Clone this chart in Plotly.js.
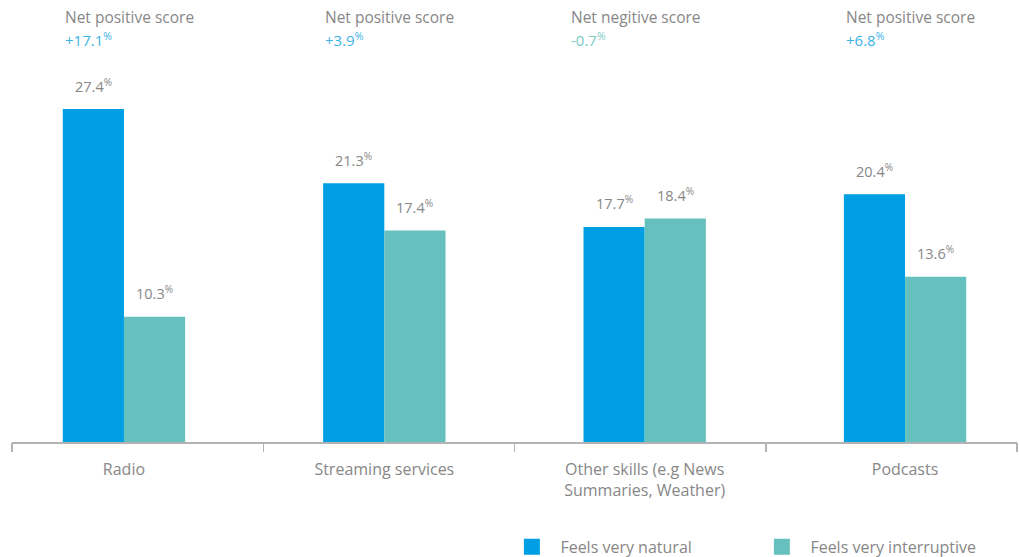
<!DOCTYPE html>
<html>
<head>
<meta charset="utf-8">
<script src="https://cdn.plot.ly/plotly-3.0.1.min.js"></script>
<style>
  html, body { margin: 0; padding: 0; background: #fff; }
  #chart { width: 1019px; height: 557px; }
</style>
</head>
<body>
<div id="chart"></div>
<script>
/* ---- Data ---- */
const CATEGORIES = ['Radio', 'Streaming services', 'Other skills (e.g News<br>Summaries, Weather)', 'Podcasts'];
const NATURAL = [27.4, 21.3, 17.7, 20.4];
const INTERRUPTIVE = [10.3, 17.4, 18.4, 13.6];
const SCORE_LABELS = ['Net positive score', 'Net positive score', 'Net negitive score', 'Net positive score'];
const SCORE_VALUES = ['+17.1', '+3.9', '-0.7', '+6.8'];
const SERIES_NAMES = ['Feels very natural', 'Feels very interruptive'];

/* ---- Style ---- */
const BLUE = '#009fe3';
const TEAL = '#66c1be';
const GREY = '#878787';
const FONT = '"Open Sans", Lato, sans-serif';

const traces = [
  {
    x: CATEGORIES, y: NATURAL, type: 'bar', name: SERIES_NAMES[0],
    marker: { color: BLUE }, showlegend: false, hoverinfo: 'skip',
  },
  {
    x: CATEGORIES, y: INTERRUPTIVE, type: 'bar', name: SERIES_NAMES[1],
    marker: { color: TEAL }, showlegend: false, hoverinfo: 'skip',
  },
  // legend-only traces so the squares can be bigger
  {
    x: [null], y: [null], type: 'scatter', mode: 'markers', name: SERIES_NAMES[0],
    marker: { color: BLUE, symbol: 'square', size: 22 }, hoverinfo: 'skip',
  },
  {
    x: [null], y: [null], type: 'scatter', mode: 'markers', name: SERIES_NAMES[1],
    marker: { color: TEAL, symbol: 'square', size: 22 }, hoverinfo: 'skip',
  },
  // invisible trace so the boundary tick axis is drawn
  {
    x: [0, 4], y: [0, 0], xaxis: 'x2', type: 'scatter', mode: 'markers',
    marker: { opacity: 0 }, showlegend: false, hoverinfo: 'skip',
  },
];

const annotations = [];
const BAR_PX = 61;
CATEGORIES.forEach((cat, i) => {
  annotations.push({
    x: i, y: NATURAL[i], xref: 'x', yref: 'y', xshift: -BAR_PX / 2, yshift: 24,
    text: NATURAL[i].toFixed(1) + '<sup>%</sup>', showarrow: false, yanchor: 'middle',
    font: { family: FONT, size: 14.5, color: GREY },
  });
  annotations.push({
    x: i, y: INTERRUPTIVE[i], xref: 'x', yref: 'y', xshift: BAR_PX / 2, yshift: 24,
    text: INTERRUPTIVE[i].toFixed(1) + '<sup>%</sup>', showarrow: false, yanchor: 'middle',
    font: { family: FONT, size: 14.5, color: GREY },
  });
  const neg = SCORE_VALUES[i].startsWith('-');
  annotations.push({
    x: i, y: 1.167, xref: 'x', yref: 'paper', xshift: i === 2 ? -76 : -61, xanchor: 'left',
    text: SCORE_LABELS[i], showarrow: false, yanchor: 'middle',
    font: { family: FONT, size: 15.5, color: GREY },
  });
  annotations.push({
    x: i, y: 1.106, xref: 'x', yref: 'paper', xshift: i === 2 ? -76 : -61, xanchor: 'left',
    text: SCORE_VALUES[i] + '<sup>%</sup>', showarrow: false, yanchor: 'middle',
    font: { family: FONT, size: 15, color: neg ? '#7ccbc8' : '#3db2e6' },
  });
});

const layout = {
  width: 1019,
  height: 557,
  font: { family: FONT, size: 16, color: GREY },
  paper_bgcolor: '#fff',
  plot_bgcolor: '#fff',
  margin: { l: 12, r: 2, t: 78, b: 115 },
  barmode: 'group',
  bargap: 0.53,
  bargroupgap: 0,
  xaxis: {
    type: 'category',
    range: [-0.43, 3.43],
    showgrid: false, zeroline: false,
    showline: true, linecolor: '#b3b3b3', linewidth: 1.5,
    ticks: '', ticklabelstandoff: 12,
    tickfont: { family: FONT, size: 16, color: GREY },
    fixedrange: true,
  },
  xaxis2: {
    overlaying: 'x', anchor: 'y', side: 'bottom',
    range: [0, 4], tickvals: [0, 1, 2, 3, 4],
    ticks: 'outside', ticklen: 9, tickwidth: 1.5, tickcolor: '#b3b3b3',
    showticklabels: false, showgrid: false, zeroline: false, showline: false,
    fixedrange: true,
  },
  yaxis: {
    range: [0, 29.96],
    visible: false,
    showgrid: false, zeroline: false,
    fixedrange: true,
  },
  showlegend: true,
  legend: {
    orientation: 'h',
    xref: 'container', yref: 'container',
    x: 0.494, xanchor: 'left',
    y: 0.018, yanchor: 'middle',
    itemwidth: 47,
    entrywidth: 188, entrywidthmode: 'pixels',
    font: { family: FONT, size: 16, color: GREY },
    bgcolor: 'rgba(0,0,0,0)',
  },
  annotations,
};

Plotly.newPlot('chart', traces, layout, { displayModeBar: false, staticPlot: true });
</script>
</body>
</html>
